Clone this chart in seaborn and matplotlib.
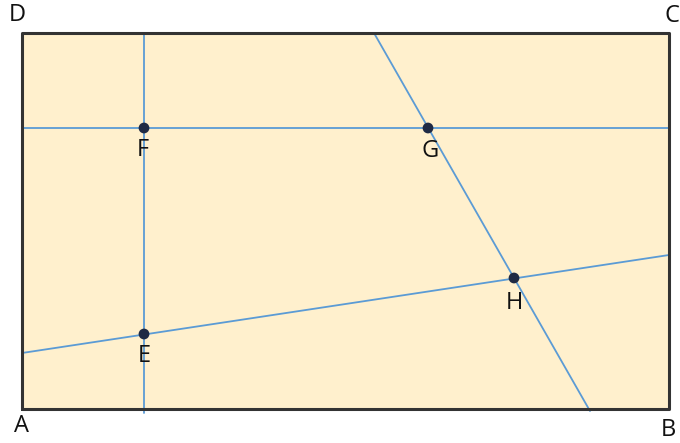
import matplotlib
matplotlib.use("Agg")
import matplotlib.pyplot as plt
import seaborn as sns
import pandas as pd

sns.set_theme(style="white")
plt.rcParams['font.family'] = ['Open Sans', 'DejaVu Sans']

# Rectangle corners (pixel-like coordinates)
rect_x = [22, 669, 669, 22, 22]
rect_y = [409, 409, 33, 33, 409]
corner_labels = ["A", "B", "C", "D"]
corner_lx = [22, 668, 672, 17]
corner_ly = [426, 430, 16, 15]

# Points
pt_names = ["F", "G", "H", "E"]
pt_x = [144, 428, 514, 144]
pt_y = [128, 128, 278, 334]
pt_lx = [143, 430, 514, 144]
pt_ly = [150, 151, 303, 356]

# Lines (start/end)
line_ids = ["v", "v", "h", "h", "gh", "gh", "eh", "eh"]
line_x = [144, 144, 22, 669, 374, 590, 22, 669]
line_y = [33, 413, 128, 128, 33, 411, 353, 255]

fig = plt.figure(figsize=(6.8, 4.43), dpi=100)
ax = fig.add_axes([0, 0, 1, 1])
ax.set_xlim(0, 680)
ax.set_ylim(443, 0)
ax.axis("off")

ax.fill(rect_x, rect_y, color="#FFF0CD", zorder=0)
lines_df = pd.DataFrame({"id": line_ids, "x": line_x, "y": line_y})
sns.lineplot(data=lines_df, x="x", y="y", units="id", estimator=None, sort=False,
             color="#5B9BD5", linewidth=1.3, ax=ax, zorder=2)
sns.lineplot(x=rect_x, y=rect_y, sort=False, estimator=None, color="#333333",
             linewidth=2.2, ax=ax, zorder=3)
sns.scatterplot(x=pt_x, y=pt_y, color="#1F2A44", s=60, edgecolor="none", ax=ax, zorder=4)

for n, x, y in zip(pt_names, pt_lx, pt_ly):
    ax.text(x, y, n, ha="center", va="center", fontsize=17, color="#111111")
for n, x, y in zip(corner_labels, corner_lx, corner_ly):
    ax.text(x, y, n, ha="center", va="center", fontsize=17, color="#111111")

ax.set_xlabel("")
ax.set_ylabel("")
fig.savefig("out.png", dpi=100)
